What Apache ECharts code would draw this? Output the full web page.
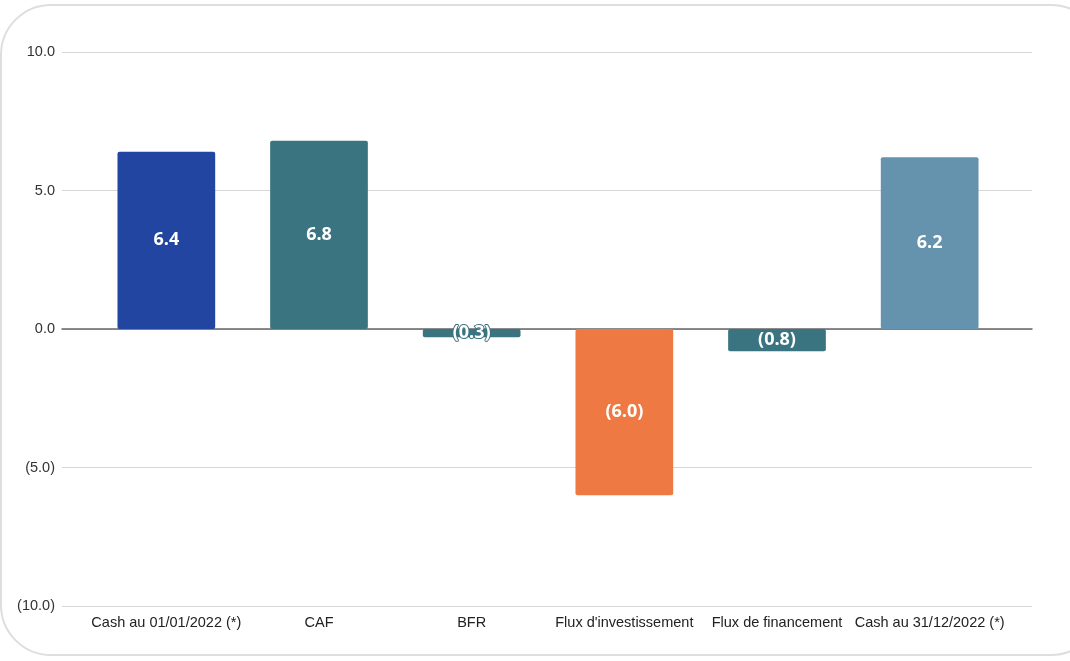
<!DOCTYPE html>
<html><head><meta charset="utf-8">
<script src="https://cdn.jsdelivr.net/npm/echarts@6/dist/echarts.min.js"></script>
<style>html,body{margin:0;padding:0;background:#fff;}#c{width:1070px;height:661px;}</style>
</head><body><div id="c"></div>
<script>
const categories = ["Cash au 01/01/2022 (*)", "CAF", "BFR", "Flux d'investissement", "Flux de financement", "Cash au 31/12/2022 (*)"];
const values = [6.4, 6.8, -0.3, -6.0, -0.8, 6.2];
const barColors = ["#2145A0", "#3A7480", "#3A7480", "#EF7942", "#3A7480", "#6592AC"];
const yTicks = [-10, -5, 0, 5, 10];

function fmt(v){ return v < 0 ? '(' + Math.abs(v).toFixed(1) + ')' : v.toFixed(1); }

const chart = echarts.init(document.getElementById('c'), null, {renderer:'canvas'});
chart.setOption({
  animation:false,
  backgroundColor:'#fff',
  graphic:[{type:'rect', shape:{x:1, y:5, width:1100, height:650, r:50}, style:{fill:'none', stroke:'#dedede', lineWidth:2}, silent:true, z:-1}],
  grid:[
    {left:62, right:38, top:52, bottom:55},
    {left:90, right:64, top:52, bottom:55}
  ],
  xAxis:[
    {gridIndex:0, type:'value', min:0, max:1, axisLabel:{show:false}, axisTick:{show:false}, splitLine:{show:false},
     axisLine:{show:true, onZero:true, lineStyle:{color:'#666', width:1.5}}},
    {gridIndex:1, type:'category', data:categories, axisLine:{show:false}, axisTick:{show:false},
     axisLabel:{color:'#222', fontSize:14.5, fontFamily:'Liberation Sans, Arial', margin:9, interval:0}}
  ],
  yAxis:[
    {gridIndex:0, type:'value', min:yTicks[0], max:yTicks[yTicks.length-1], interval:5,
     axisLine:{show:false}, axisTick:{show:false},
     axisLabel:{color:'#333', fontSize:14.5, fontFamily:'Liberation Sans, Arial', margin:7, formatter:fmt},
     splitLine:{lineStyle:{color:'#d6d6d6', width:1}}},
    {gridIndex:1, type:'value', min:yTicks[0], max:yTicks[yTicks.length-1], interval:5, show:false, splitLine:{show:false}}
  ],
  series:[{
    type:'bar', xAxisIndex:1, yAxisIndex:1, barWidth:'64%',
    data: values.map((v,i)=>({value:v, itemStyle:{color:barColors[i], borderRadius:2},
      label:{textBorderColor:barColors[i]}})),
    label:{show:true, position:'inside', color:'#fff', fontSize:18, fontWeight:'bold', fontFamily:'Open Sans',
      textBorderWidth:2, formatter:p=>fmt(p.value)},
    z:3
  }]
});
</script></body></html>
